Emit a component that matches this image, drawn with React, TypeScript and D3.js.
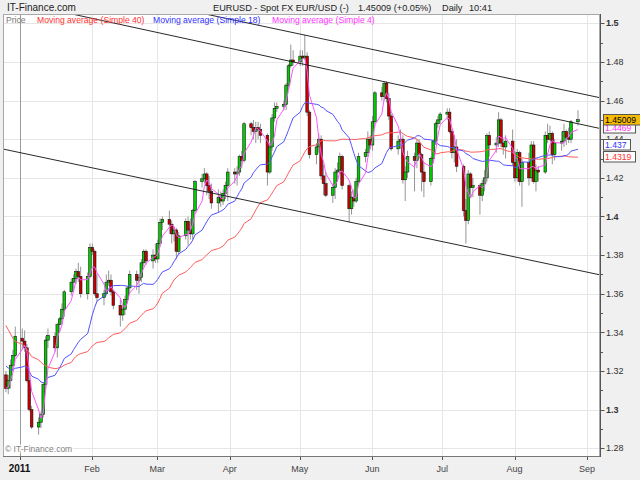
import React, { useEffect, useRef } from "react";
import * as d3 from "d3";

type Bar = [number, number, number, number]; // open, high, low, close

const dec2010: Bar[] = [
  [1.3180, 1.3200, 1.3090, 1.3110], [1.3110, 1.3180, 1.3080, 1.3150], [1.3150, 1.3260, 1.3110, 1.3230],
  [1.3230, 1.3310, 1.3200, 1.3280], [1.3280, 1.3430, 1.3270, 1.3380],
];
const jan2011: Bar[] = [
  [1.3370, 1.3420, 1.3310, 1.3355], [1.3355, 1.3410, 1.3300, 1.3320], [1.3320, 1.3340, 1.3140, 1.3150],
  [1.3150, 1.3180, 1.2990, 1.3000], [1.3000, 1.3020, 1.2900, 1.2910], [1.2910, 1.2960, 1.2870, 1.2935],
  [1.2935, 1.2990, 1.2905, 1.2975], [1.2975, 1.3140, 1.2960, 1.3130], [1.3130, 1.3380, 1.3100, 1.3360],
  [1.3360, 1.3420, 1.3320, 1.3385], [1.3380, 1.3400, 1.3300, 1.3320], [1.3320, 1.3450, 1.3270, 1.3440],
  [1.3440, 1.3480, 1.3400, 1.3470], [1.3470, 1.3550, 1.3440, 1.3520], [1.3520, 1.3620, 1.3480, 1.3610],
  [1.3610, 1.3680, 1.3590, 1.3660], [1.3660, 1.3700, 1.3610, 1.3680], [1.3680, 1.3730, 1.3650, 1.3715],
  [1.3715, 1.3760, 1.3660, 1.3690], [1.3690, 1.3740, 1.3580, 1.3600], [1.3600, 1.3710, 1.3570, 1.3690],
];
const feb2011: Bar[] = [
  [1.3690, 1.3860, 1.3680, 1.3840], [1.3840, 1.3860, 1.3800, 1.3820], [1.3820, 1.3830, 1.3590, 1.3600],
  [1.3600, 1.3700, 1.3560, 1.3580], [1.3580, 1.3620, 1.3540, 1.3600], [1.3600, 1.3700, 1.3590, 1.3660],
  [1.3660, 1.3720, 1.3640, 1.3670], [1.3670, 1.3700, 1.3590, 1.3610], [1.3610, 1.3620, 1.3520, 1.3540],
  [1.3540, 1.3570, 1.3430, 1.3490], [1.3490, 1.3540, 1.3460, 1.3520], [1.3520, 1.3590, 1.3490, 1.3570],
  [1.3570, 1.3640, 1.3550, 1.3630], [1.3630, 1.3720, 1.3600, 1.3700], [1.3700, 1.3720, 1.3620, 1.3670],
  [1.3670, 1.3700, 1.3600, 1.3685], [1.3685, 1.3780, 1.3660, 1.3760], [1.3760, 1.3830, 1.3740, 1.3820],
  [1.3820, 1.3830, 1.3750, 1.3770], [1.3770, 1.3830, 1.3730, 1.3800],
];
const mar2011: Bar[] = [
  [1.3800, 1.3860, 1.3760, 1.3780], [1.3780, 1.3880, 1.3760, 1.3860], [1.3860, 1.3990, 1.3840, 1.3970],
  [1.3970, 1.4000, 1.3930, 1.3985], [1.3985, 1.4030, 1.3910, 1.3960], [1.3960, 1.3980, 1.3860, 1.3910],
  [1.3910, 1.3950, 1.3870, 1.3930], [1.3930, 1.3940, 1.3780, 1.3820], [1.3820, 1.3920, 1.3800, 1.3900],
  [1.3900, 1.3990, 1.3880, 1.3975], [1.3975, 1.4000, 1.3850, 1.3930], [1.3930, 1.3990, 1.3880, 1.3910],
  [1.3910, 1.4040, 1.3880, 1.4030], [1.4030, 1.4190, 1.4020, 1.4180], [1.4180, 1.4220, 1.4150, 1.4195],
  [1.4195, 1.4250, 1.4170, 1.4220], [1.4220, 1.4230, 1.4110, 1.4160], [1.4160, 1.4210, 1.4090, 1.4130],
  [1.4130, 1.4170, 1.4040, 1.4070], [1.4070, 1.4140, 1.4020, 1.4100], [1.4100, 1.4130, 1.4050, 1.4080],
  [1.4080, 1.4140, 1.4060, 1.4120], [1.4120, 1.4180, 1.4090, 1.4160],
];
const apr2011: Bar[] = [
  [1.4160, 1.4250, 1.4080, 1.4230], [1.4230, 1.4250, 1.4170, 1.4220], [1.4220, 1.4260, 1.4160, 1.4230],
  [1.4230, 1.4320, 1.4210, 1.4310], [1.4310, 1.4340, 1.4250, 1.4290], [1.4290, 1.4490, 1.4280, 1.4480],
  [1.4480, 1.4490, 1.4420, 1.4460], [1.4460, 1.4500, 1.4400, 1.4440], [1.4440, 1.4490, 1.4380, 1.4460],
  [1.4460, 1.4490, 1.4400, 1.4450], [1.4450, 1.4480, 1.4380, 1.4420], [1.4420, 1.4430, 1.4160, 1.4230],
  [1.4230, 1.4380, 1.4220, 1.4360], [1.4360, 1.4530, 1.4340, 1.4510], [1.4510, 1.4590, 1.4490, 1.4560],
  [1.4560, 1.4590, 1.4540, 1.4570], [1.4570, 1.4600, 1.4550, 1.4580], [1.4580, 1.4690, 1.4550, 1.4680],
  [1.4680, 1.4790, 1.4660, 1.4780], [1.4780, 1.4890, 1.4770, 1.4810], [1.4810, 1.4860, 1.4780, 1.4800],
];
const may2011: Bar[] = [
  [1.4800, 1.4860, 1.4780, 1.4830], [1.4830, 1.4860, 1.4780, 1.4820], [1.4820, 1.4940, 1.4810, 1.4830],
  [1.4830, 1.4850, 1.4520, 1.4540], [1.4540, 1.4550, 1.4300, 1.4320], [1.4320, 1.4380, 1.4270, 1.4360],
  [1.4360, 1.4430, 1.4330, 1.4400], [1.4400, 1.4420, 1.4190, 1.4210], [1.4210, 1.4270, 1.4110, 1.4170],
  [1.4170, 1.4230, 1.4100, 1.4110], [1.4110, 1.4170, 1.4070, 1.4150], [1.4150, 1.4250, 1.4090, 1.4230],
  [1.4230, 1.4280, 1.4180, 1.4240], [1.4240, 1.4330, 1.4220, 1.4310], [1.4310, 1.4320, 1.4140, 1.4160],
  [1.4160, 1.4170, 1.3970, 1.4040], [1.4040, 1.4130, 1.4010, 1.4100], [1.4100, 1.4140, 1.4050, 1.4080],
  [1.4080, 1.4200, 1.4070, 1.4180], [1.4180, 1.4330, 1.4160, 1.4310], [1.4310, 1.4350, 1.4280, 1.4330],
  [1.4330, 1.4440, 1.4310, 1.4400],
];
const jun2011: Bar[] = [
  [1.4400, 1.4420, 1.4350, 1.4370], [1.4370, 1.4520, 1.4340, 1.4490], [1.4490, 1.4650, 1.4460, 1.4640],
  [1.4640, 1.4670, 1.4600, 1.4620], [1.4620, 1.4700, 1.4600, 1.4690], [1.4690, 1.4700, 1.4590, 1.4610],
  [1.4610, 1.4640, 1.4500, 1.4520], [1.4520, 1.4530, 1.4340, 1.4350], [1.4350, 1.4420, 1.4320, 1.4390],
  [1.4390, 1.4450, 1.4350, 1.4400], [1.4400, 1.4420, 1.4170, 1.4190], [1.4190, 1.4260, 1.4080, 1.4230],
  [1.4230, 1.4340, 1.4200, 1.4310], [1.4310, 1.4330, 1.4130, 1.4290], [1.4290, 1.4400, 1.4250, 1.4380],
  [1.4380, 1.4400, 1.4300, 1.4320], [1.4320, 1.4330, 1.4130, 1.4230], [1.4230, 1.4280, 1.4100, 1.4180],
  [1.4180, 1.4310, 1.4160, 1.4300], [1.4300, 1.4400, 1.4280, 1.4390], [1.4390, 1.4490, 1.4370, 1.4480],
  [1.4480, 1.4520, 1.4460, 1.4500],
];
const jul2011: Bar[] = [
  [1.4500, 1.4540, 1.4480, 1.4530], [1.4530, 1.4560, 1.4500, 1.4540], [1.4540, 1.4560, 1.4430, 1.4440],
  [1.4440, 1.4450, 1.4300, 1.4330], [1.4330, 1.4420, 1.4280, 1.4360], [1.4360, 1.4400, 1.4230, 1.4260],
  [1.4260, 1.4270, 1.4000, 1.4030], [1.4030, 1.4090, 1.3860, 1.3980], [1.3980, 1.4240, 1.3960, 1.4220],
  [1.4220, 1.4230, 1.4100, 1.4150], [1.4150, 1.4200, 1.4100, 1.4160], [1.4160, 1.4170, 1.4010, 1.4110],
  [1.4110, 1.4190, 1.4080, 1.4170], [1.4170, 1.4240, 1.4130, 1.4200], [1.4200, 1.4430, 1.4180, 1.4420],
  [1.4420, 1.4440, 1.4310, 1.4370], [1.4370, 1.4410, 1.4330, 1.4380], [1.4380, 1.4540, 1.4360, 1.4500],
  [1.4500, 1.4510, 1.4360, 1.4380], [1.4380, 1.4400, 1.4320, 1.4360], [1.4360, 1.4420, 1.4300, 1.4390],
];
const aug2011: Bar[] = [
  [1.4390, 1.4450, 1.4260, 1.4280], [1.4280, 1.4340, 1.4180, 1.4200], [1.4200, 1.4350, 1.4180, 1.4330],
  [1.4330, 1.4340, 1.4160, 1.4180], [1.4180, 1.4300, 1.4050, 1.4280], [1.4280, 1.4330, 1.4160, 1.4200],
  [1.4200, 1.4390, 1.4180, 1.4370], [1.4370, 1.4390, 1.4170, 1.4180], [1.4180, 1.4270, 1.4130, 1.4240],
  [1.4240, 1.4260, 1.4180, 1.4230], [1.4230, 1.4440, 1.4220, 1.4420], [1.4420, 1.4480, 1.4380, 1.4400],
  [1.4400, 1.4470, 1.4390, 1.4430], [1.4430, 1.4440, 1.4270, 1.4320], [1.4320, 1.4400, 1.4290, 1.4380],
  [1.4380, 1.4440, 1.4340, 1.4390], [1.4390, 1.4480, 1.4360, 1.4440], [1.4440, 1.4450, 1.4370, 1.4410],
  [1.4410, 1.4460, 1.4380, 1.4400], [1.4400, 1.4500, 1.4380, 1.4490], [1.4490, 1.4550, 1.4470, 1.4501],
];

// closes before the visible window (Nov/Dec 2010), only used to seed the moving averages
const warmupCloses = [
  1.3930, 1.4040, 1.4120, 1.4200, 1.4030, 1.3880, 1.3780, 1.3760, 1.3720, 1.3700,
  1.3590, 1.3520, 1.3520, 1.3670, 1.3670, 1.3630, 1.3370, 1.3330, 1.3350, 1.3240,
  1.3120, 1.2990, 1.3140, 1.3330, 1.3410, 1.3260, 1.3260, 1.3230, 1.3240, 1.3230,
  1.3390, 1.3370, 1.3230, 1.3230, 1.3190, 1.3160, 1.3100, 1.3120, 1.3090, 1.3120,
];

const monthBlocks = [
  { year: 2010, month: 11, from: 27, bars: dec2010 },
  { year: 2011, month: 0, from: 1, bars: jan2011 },
  { year: 2011, month: 1, from: 1, bars: feb2011 },
  { year: 2011, month: 2, from: 1, bars: mar2011 },
  { year: 2011, month: 3, from: 1, bars: apr2011 },
  { year: 2011, month: 4, from: 1, bars: may2011 },
  { year: 2011, month: 5, from: 1, bars: jun2011 },
  { year: 2011, month: 6, from: 1, bars: jul2011 },
  { year: 2011, month: 7, from: 1, bars: aug2011 },
];

const maPeriods = [40, 18, 4];
const maNames = ["Moving average (Simple 40)", "Moving average (Simple 18)", "Moving average (Simple 4)"];
const maLegendColors = ["#ff3030", "#3030ff", "#ff30ff"];
const maLineColors = ["#ff5c5c", "#5252ff", "#ff55ff"];
const maLastLabels = ["1.4319", "1.437", "1.4469"];

const lastClose = "1.45009";
const titleText = "EURUSD - Spot FX EUR/USD (-)";
const changeText = "1.45009 (+0.05%)";

const yTicks = d3.range(128, 151).map((v) => v / 100);

// channel lines, anchored at 1 Jan and 1 Sep 2011
const trendDates = [new Date(2011, 0, 1), new Date(2011, 8, 1)];
const trendLines = [
  [1.5252, 1.4629],
  [1.5107, 1.4470],
  [1.4331, 1.3712],
];

interface Candle { date: Date; o: number; h: number; l: number; c: number; }

function buildCandles(): Candle[] {
  const out: Candle[] = [];
  monthBlocks.forEach((b) => {
    let day = b.from;
    b.bars.forEach((bar) => {
      let d = new Date(b.year, b.month, day);
      while (d.getDay() === 0 || d.getDay() === 6) {
        day++;
        d = new Date(b.year, b.month, day);
      }
      out.push({ date: d, o: bar[0], h: bar[1], l: bar[2], c: bar[3] });
      day++;
    });
  });
  return out;
}

const FONT = "'Liberation Sans', Arial, sans-serif";

const App = () => {
  const ref = useRef<SVGSVGElement>(null);

  useEffect(() => {
    const candles = buildCandles();
    const allCloses = warmupCloses.concat(candles.map((c) => c.c));
    const off = warmupCloses.length;
    const sma = (n: number) =>
      candles.map((_, i) => d3.mean(allCloses.slice(off + i - n + 1, off + i + 1)) as number);

    const plot = { l: 3, t: 14, r: 600, b: 456 };
    const x = d3.scaleTime()
      .domain([new Date(2011, 0, 1), new Date(2011, 8, 1)])
      .range([19.6, 587]);
    const y = d3.scaleLinear().domain([1.27601, 1.50481]).range([plot.b, plot.t]);
    const cx = (d: Date) => x(d) - 2;

    const svg = d3.select(ref.current);
    svg.selectAll("*").remove();
    svg.append("rect").attr("width", 640).attr("height", 480).attr("fill", "#f0f0f0");
    svg.append("rect")
      .attr("x", plot.l).attr("y", plot.t)
      .attr("width", plot.r - plot.l).attr("height", plot.b - plot.t)
      .attr("fill", "#fff");
    svg.append("defs").append("clipPath").attr("id", "plotclip")
      .append("rect")
      .attr("x", plot.l).attr("y", plot.t)
      .attr("width", plot.r - plot.l).attr("height", plot.b - plot.t);

    // grid
    const months = d3.timeMonth.range(new Date(2011, 0, 1), new Date(2011, 8, 2));
    svg.append("g").selectAll("line")
      .data(yTicks.filter((v) => Math.round(v * 100) % 2 === 0))
      .enter().append("line")
      .attr("x1", plot.l).attr("x2", plot.r)
      .attr("y1", (d) => Math.round(y(d)) + 0.5).attr("y2", (d) => Math.round(y(d)) + 0.5)
      .attr("stroke", "#e6e6e6");
    svg.append("g").selectAll("line")
      .data(months)
      .enter().append("line")
      .attr("x1", (d) => Math.round(x(d)) + 0.5).attr("x2", (d) => Math.round(x(d)) + 0.5)
      .attr("y1", plot.t).attr("y2", plot.b)
      .attr("stroke", (d) => (d.getMonth() === 0 ? "#9a9a9a" : "#e6e6e6"));

    const g = svg.append("g").attr("clip-path", "url(#plotclip)");

    // candles
    const cg = g.append("g");
    cg.selectAll("line")
      .data(candles)
      .enter().append("line")
      .attr("x1", (d) => cx(d.date)).attr("x2", (d) => cx(d.date))
      .attr("y1", (d) => y(d.h)).attr("y2", (d) => y(d.l))
      .attr("stroke", "#959595").attr("stroke-width", 1);
    cg.selectAll("rect")
      .data(candles)
      .enter().append("rect")
      .attr("x", (d) => cx(d.date) - 1.35)
      .attr("width", 2.7)
      .attr("y", (d) => y(Math.max(d.o, d.c)))
      .attr("height", (d) => Math.max(0.8, Math.abs(y(d.o) - y(d.c))))
      .attr("fill", (d) => (d.c >= d.o ? "#00cc00" : "#c80000"))
      .attr("stroke", "#111").attr("stroke-width", 0.55);

    // moving averages
    maPeriods.forEach((n, k) => {
      const vals = sma(n);
      const line = d3.line<number>()
        .x((_, i) => cx(candles[i].date))
        .y((v) => y(v));
      g.append("path")
        .attr("d", line(vals) as string)
        .attr("fill", "none")
        .attr("stroke", maLineColors[k])
        .attr("stroke-width", 1);
    });

    // channel lines
    trendLines.forEach((p) => {
      const x0 = x(trendDates[0]), x1 = x(trendDates[1]);
      const y0 = y(p[0]), y1 = y(p[1]);
      const slope = (y1 - y0) / (x1 - x0);
      g.append("line")
        .attr("x1", plot.l).attr("y1", y0 + (plot.l - x0) * slope)
        .attr("x2", plot.r).attr("y2", y0 + (plot.r - x0) * slope)
        .attr("stroke", "#111").attr("stroke-width", 0.9);
    });

    // frame
    svg.append("rect")
      .attr("x", plot.l + 0.5).attr("y", plot.t + 0.5)
      .attr("width", plot.r - plot.l - 1).attr("height", plot.b - plot.t)
      .attr("fill", "none").attr("stroke", "#a8a8a8");
    svg.append("line")
      .attr("x1", plot.r + 0.5).attr("x2", plot.r + 0.5)
      .attr("y1", plot.t).attr("y2", plot.b + 1)
      .attr("stroke", "#555");
    svg.append("line")
      .attr("x1", plot.l).attr("x2", plot.r)
      .attr("y1", plot.b + 0.5).attr("y2", plot.b + 0.5)
      .attr("stroke", "#777");

    // y axis
    const ya = svg.append("g");
    ya.selectAll("line")
      .data(yTicks)
      .enter().append("line")
      .attr("x1", plot.r + 1)
      .attr("x2", (d) => plot.r + (Math.round(d * 100) % 2 === 0 ? 4.5 : 3))
      .attr("y1", (d) => Math.round(y(d)) + 0.5).attr("y2", (d) => Math.round(y(d)) + 0.5)
      .attr("stroke", "#555");
    ya.selectAll("text")
      .data(yTicks.filter((v) => Math.round(v * 100) % 2 === 0))
      .enter().append("text")
      .attr("x", plot.r + 6)
      .attr("y", (d) => y(d) + 3.2)
      .attr("font-family", FONT)
      .attr("font-size", 9)
      .attr("font-weight", (d) => (Math.round(d * 100) % 10 === 0 ? "bold" : "normal"))
      .attr("fill", "#333")
      .text((d) => String(+d.toFixed(2)));

    // last value boxes
    const boxes = [
      { text: maLastLabels[0], color: maLegendColors[0], fill: "#fff", dy: 1.5 },
      { text: maLastLabels[1], color: maLegendColors[1], fill: "#fff", dy: -0.5 },
      { text: maLastLabels[2], color: maLegendColors[2], fill: "#fff", dy: 1.5 },
      { text: lastClose, color: "#000", fill: "#f6bb00", dy: 0 },
    ];
    boxes.forEach((b) => {
      const yc = y(+b.text) + b.dy;
      const w = b.text.length * 5 + 2;
      svg.append("rect")
        .attr("x", plot.r + 3.5).attr("y", Math.round(yc - 5.5) + 0.5)
        .attr("width", w).attr("height", 10.5)
        .attr("fill", b.fill).attr("stroke", "#555");
      svg.append("text")
        .attr("x", plot.r + 5).attr("y", Math.round(yc - 5.5) + 8.8)
        .attr("font-family", FONT).attr("font-size", 8.6)
        .attr("fill", b.color)
        .text(b.text);
    });

    // x axis
    const xa = svg.append("g");
    xa.selectAll("line")
      .data(months)
      .enter().append("line")
      .attr("x1", (d) => Math.round(x(d)) + 0.5).attr("x2", (d) => Math.round(x(d)) + 0.5)
      .attr("y1", plot.b + 1).attr("y2", plot.b + 4)
      .attr("stroke", "#555");
    xa.selectAll("text")
      .data(months)
      .enter().append("text")
      .attr("x", (d) => x(d))
      .attr("y", 472)
      .attr("text-anchor", "middle")
      .attr("font-family", FONT)
      .attr("font-size", (d) => (d.getMonth() === 0 ? 10 : 9))
      .attr("font-weight", (d) => (d.getMonth() === 0 ? "bold" : "normal"))
      .attr("fill", (d) => (d.getMonth() === 0 ? "#111" : "#444"))
      .text((d) => (d.getMonth() === 0 ? d3.timeFormat("%Y")(d) : d3.timeFormat("%b")(d)));

    // header
    const hdr = svg.append("g").attr("font-family", FONT).attr("fill", "#222");
    hdr.append("text").attr("x", 7).attr("y", 11).attr("font-size", 10).text("IT-Finance.com");
    hdr.append("text").attr("x", 213).attr("y", 11).attr("font-size", 9.2).text(titleText);
    hdr.append("text").attr("x", 358).attr("y", 11).attr("font-size", 9.2).text(changeText);
    hdr.append("text").attr("x", 442).attr("y", 11).attr("font-size", 9.2).text("Daily");
    hdr.append("text").attr("x", 469).attr("y", 11).attr("font-size", 9.2).text("10:41");

    // legend
    const lg = svg.append("g").attr("font-family", FONT).attr("font-size", 8.6);
    lg.append("text").attr("x", 6).attr("y", 23).attr("fill", "#777").text("Price");
    const legendX = [37, 153, 272];
    maNames.forEach((name, k) => {
      lg.append("text").attr("x", legendX[k]).attr("y", 23)
        .attr("fill", maLegendColors[k]).text(name);
    });

    // watermark
    svg.append("text")
      .attr("x", 5).attr("y", 452)
      .attr("font-family", FONT).attr("font-size", 8.5)
      .attr("fill", "#808080")
      .attr("stroke", "#fff").attr("stroke-width", 2.5)
      .attr("paint-order", "stroke")
      .text("\u00a9 IT-Finance.com");
  }, []);

  return (
    <div style={{ position: "fixed", left: 0, top: 0, width: 640, height: 480 }}>
      <svg ref={ref} width={640} height={480} style={{ display: "block" }} />
    </div>
  );
};

export default App;
